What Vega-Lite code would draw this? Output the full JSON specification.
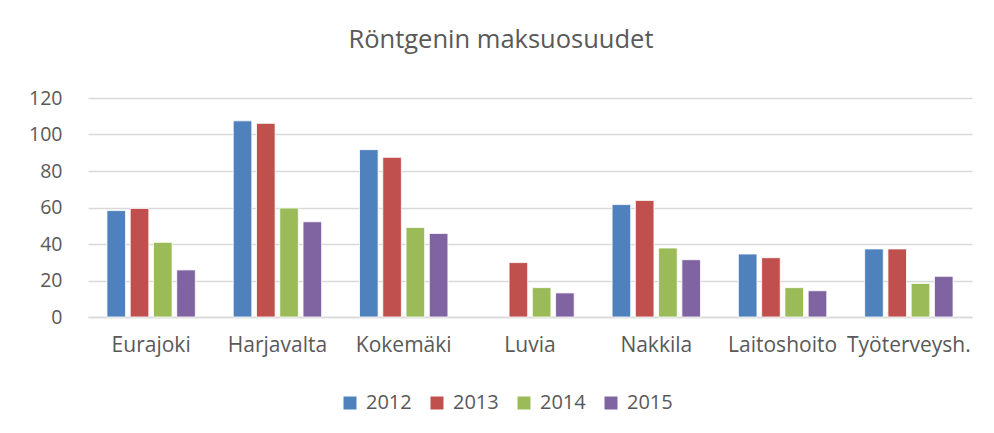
{
  "$schema": "https://vega.github.io/schema/vega-lite/v6.json",
  "width": 884,
  "height": 219,
  "autosize": "none",
  "padding": {"left": 88, "top": 98, "right": 22, "bottom": 116},
  "background": "white",
  "title": {
    "text": "Röntgenin maksuosuudet",
    "font": "Open Sans",
    "fontSize": 25.5,
    "fontWeight": "normal",
    "color": "#595959",
    "anchor": "middle",
    "dx": -29,
    "offset": 35
  },
  "data": {
    "values": [
      {"kunta": "Eurajoki", "vuosi": "2012", "arvo": 58.3},
      {"kunta": "Eurajoki", "vuosi": "2013", "arvo": 59.5},
      {"kunta": "Eurajoki", "vuosi": "2014", "arvo": 40.9},
      {"kunta": "Eurajoki", "vuosi": "2015", "arvo": 25.8},
      {"kunta": "Harjavalta", "vuosi": "2012", "arvo": 107.5},
      {"kunta": "Harjavalta", "vuosi": "2013", "arvo": 106.1},
      {"kunta": "Harjavalta", "vuosi": "2014", "arvo": 59.7},
      {"kunta": "Harjavalta", "vuosi": "2015", "arvo": 52.2},
      {"kunta": "Kokemäki", "vuosi": "2012", "arvo": 91.7},
      {"kunta": "Kokemäki", "vuosi": "2013", "arvo": 87.5},
      {"kunta": "Kokemäki", "vuosi": "2014", "arvo": 49.1},
      {"kunta": "Kokemäki", "vuosi": "2015", "arvo": 45.8},
      {"kunta": "Luvia", "vuosi": "2013", "arvo": 29.8},
      {"kunta": "Luvia", "vuosi": "2014", "arvo": 16.1},
      {"kunta": "Luvia", "vuosi": "2015", "arvo": 13.2},
      {"kunta": "Nakkila", "vuosi": "2012", "arvo": 61.6},
      {"kunta": "Nakkila", "vuosi": "2013", "arvo": 63.9},
      {"kunta": "Nakkila", "vuosi": "2014", "arvo": 37.8},
      {"kunta": "Nakkila", "vuosi": "2015", "arvo": 31.4},
      {"kunta": "Laitoshoito", "vuosi": "2012", "arvo": 34.5},
      {"kunta": "Laitoshoito", "vuosi": "2013", "arvo": 32.5},
      {"kunta": "Laitoshoito", "vuosi": "2014", "arvo": 16.1},
      {"kunta": "Laitoshoito", "vuosi": "2015", "arvo": 14.4},
      {"kunta": "Työterveysh.", "vuosi": "2012", "arvo": 37.3},
      {"kunta": "Työterveysh.", "vuosi": "2013", "arvo": 37.3},
      {"kunta": "Työterveysh.", "vuosi": "2014", "arvo": 18.4},
      {"kunta": "Työterveysh.", "vuosi": "2015", "arvo": 22.3}
    ]
  },
  "mark": {"type": "bar", "stroke": "white", "strokeWidth": 0.8},
  "encoding": {
    "x": {
      "field": "kunta",
      "type": "nominal",
      "sort": ["Eurajoki", "Harjavalta", "Kokemäki", "Luvia", "Nakkila", "Laitoshoito", "Työterveysh."],
      "scale": {"paddingInner": 0.3, "paddingOuter": 0.15},
      "axis": {
        "title": null,
        "labelAngle": 0,
        "labelFont": "Open Sans",
        "labelFontSize": 21,
        "labelColor": "#595959",
        "labelPadding": 17,
        "labelLimit": 200,
        "ticks": false,
        "domainColor": "#d9d9d9",
        "domainWidth": 1.5
      }
    },
    "xOffset": {
      "field": "vuosi",
      "type": "nominal",
      "scale": {"domain": ["2012", "2013", "2014", "2015"], "paddingInner": 0.2, "paddingOuter": 0}
    },
    "y": {
      "field": "arvo",
      "type": "quantitative",
      "scale": {"domain": [0, 120]},
      "axis": {
        "title": null,
        "values": [0, 20, 40, 60, 80, 100, 120],
        "labelFont": "Open Sans",
        "labelFontSize": 19.5,
        "labelColor": "#595959",
        "labelPadding": 26,
        "ticks": false,
        "domain": false,
        "gridColor": "#d9d9d9",
        "gridWidth": 1.5
      }
    },
    "color": {
      "field": "vuosi",
      "type": "nominal",
      "scale": {"domain": ["2012", "2013", "2014", "2015"], "range": ["#4F81BD", "#C0504D", "#9BBB59", "#8064A2"]},
      "legend": {
        "title": null,
        "orient": "none",
        "direction": "horizontal",
        "legendX": 252,
        "legendY": 295,
        "symbolType": "square",
        "symbolSize": 169,
        "symbolStrokeWidth": 0,
        "labelFont": "Open Sans",
        "labelFontSize": 20,
        "labelColor": "#595959",
        "labelOffset": 6,
        "columnPadding": 15
      }
    }
  },
  "config": {"view": {"stroke": null}}
}
